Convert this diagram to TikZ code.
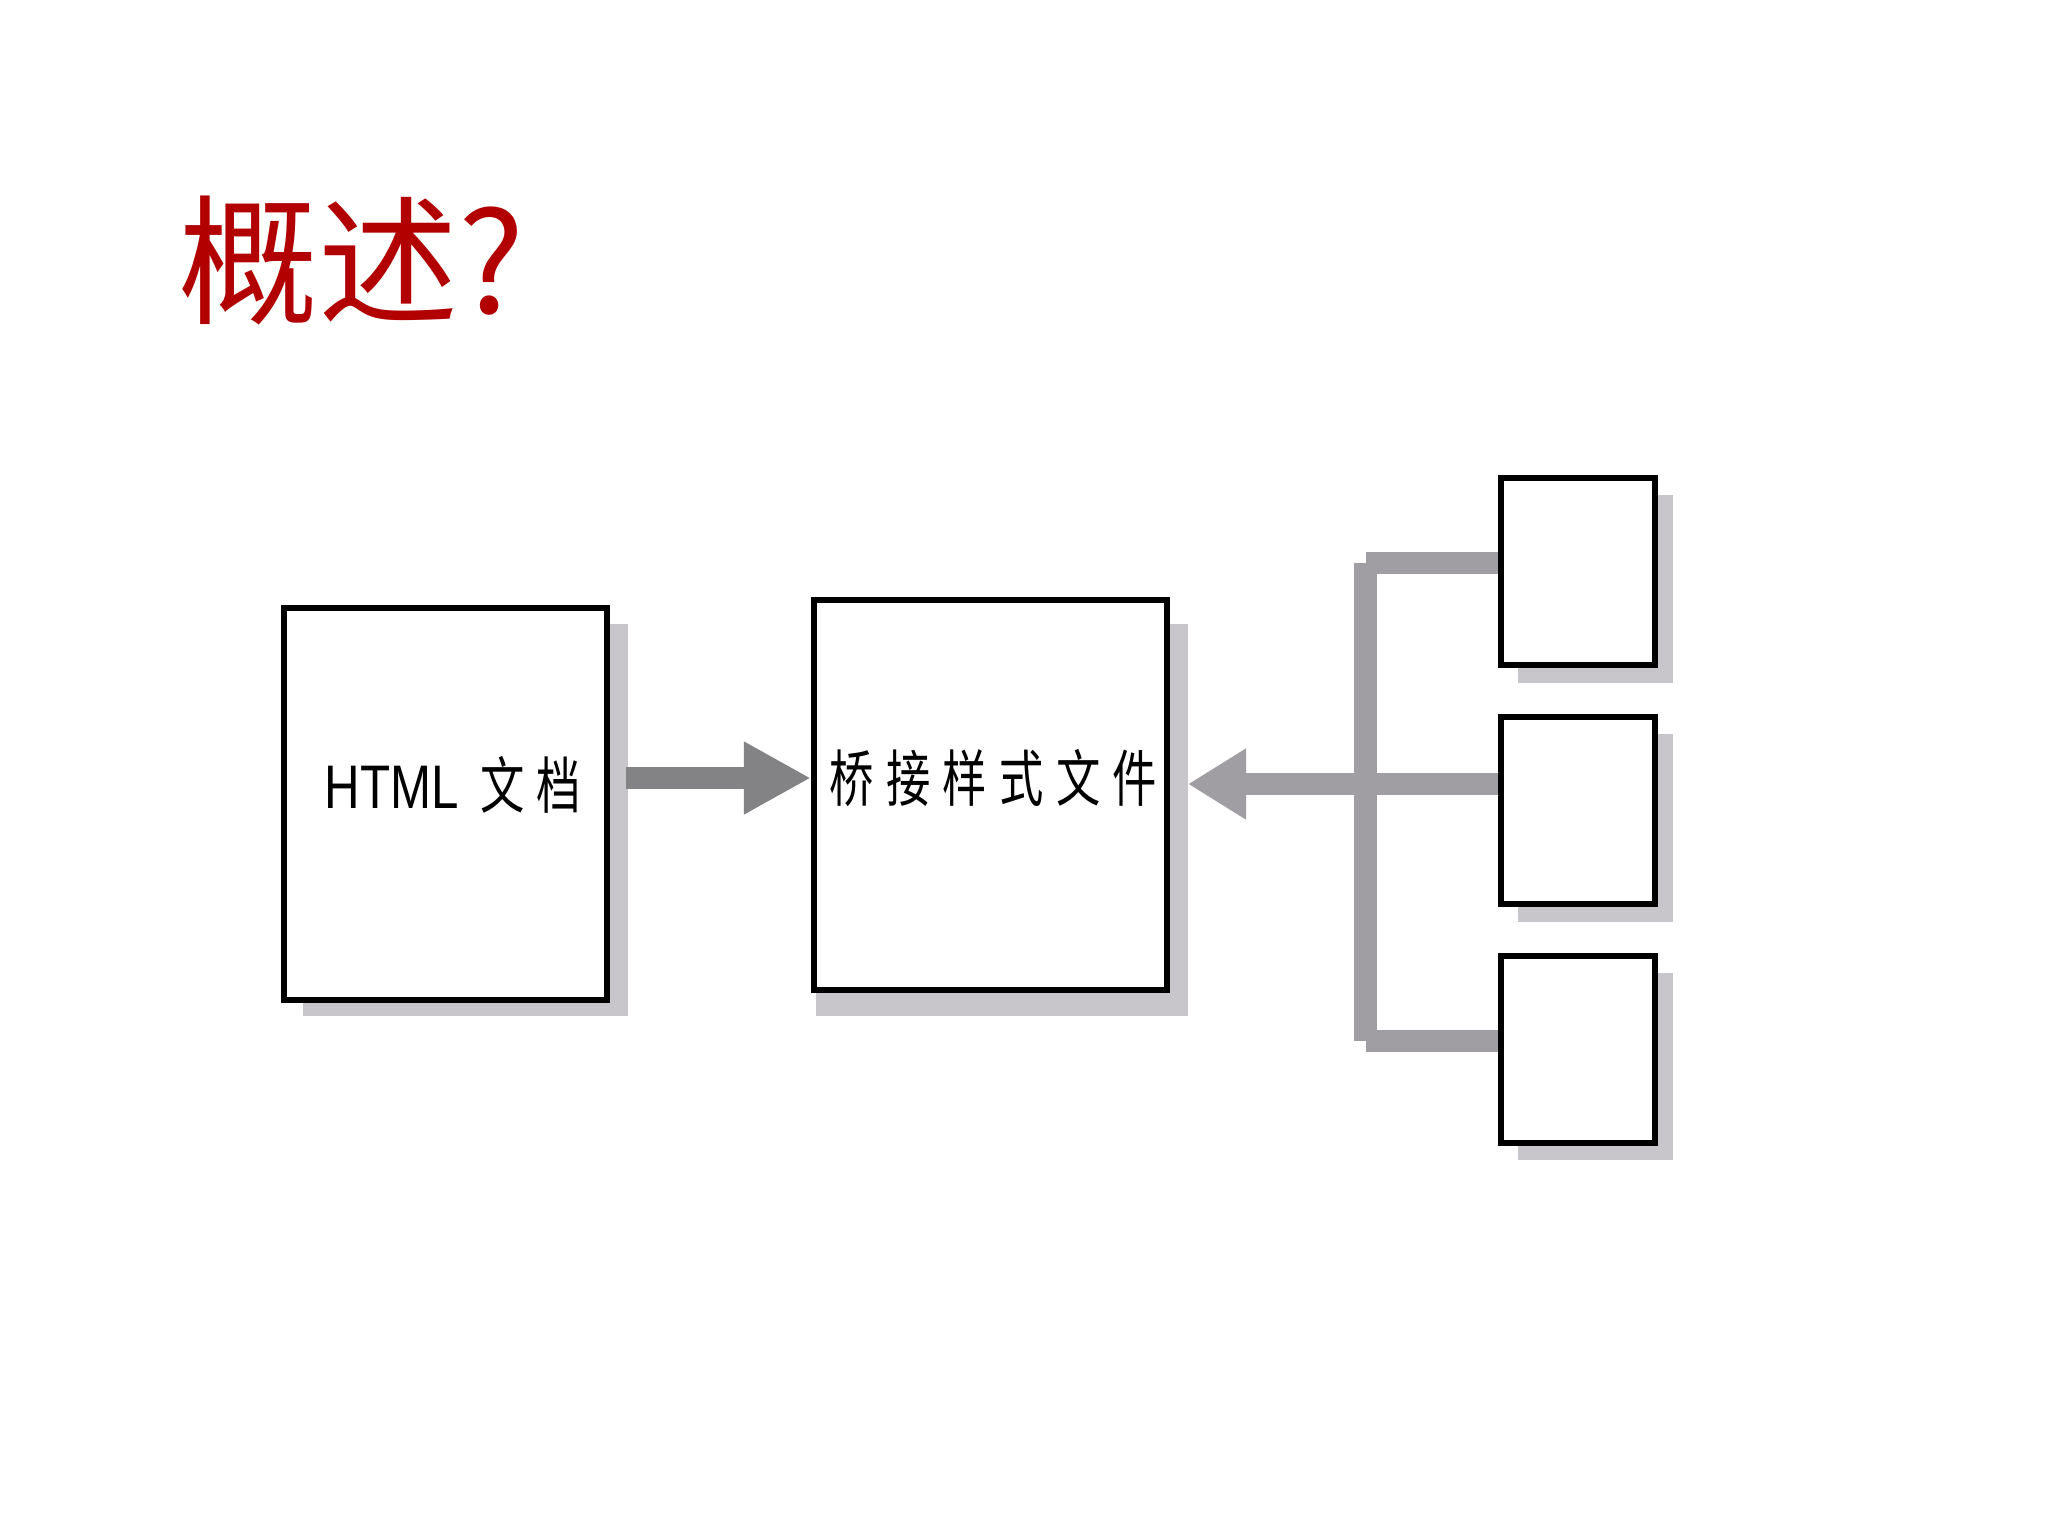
\documentclass[tikz,border=0pt]{standalone}
\usepackage{fontspec}
\usetikzlibrary{arrows.meta}
\newfontfamily\cjktitle{Noto Sans CJK SC}
\newfontfamily\cjknarrow[FakeStretch=0.72,LetterSpace=20]{Noto Sans CJK SC}
\newfontfamily\latnarrow[FakeStretch=0.8]{Liberation Sans}
\definecolor{titlered}{RGB}{178,0,0}
\definecolor{shadowgray}{RGB}{200,198,202}
\definecolor{bargray}{RGB}{160,158,162}
\definecolor{arrowgray}{RGB}{131,130,132}
\tikzset{
  boxnode/.style={draw=black, line width=0.06cm, fill=white, inner sep=0pt},
  smallbox/.style={boxnode, minimum width=1.54cm, minimum height=1.87cm},
  shadowfill/.style={fill=shadowgray},
  bar/.style={draw=bargray, line width=0.225cm},
  bigarrow/.style={draw=arrowgray, line width=0.22cm, -{Triangle[length=0.67cm,width=0.68cm]}},
  backarrow/.style={bar, -{Triangle[length=0.58cm,width=0.67cm]}},
  lab/.style={anchor=base west, inner sep=0pt, font=\fontsize{17.5pt}{21pt}\selectfont}
}
\begin{document}
\begin{tikzpicture}[x=0.01cm,y=-0.01cm]
\useasboundingbox (0,0) rectangle (2048,1536);
\fill[white] (0,0) rectangle (2048,1536);
% title
\node[anchor=base west, inner sep=0pt, text=titlered, font={\cjktitle\fontsize{39.8pt}{48pt}\selectfont}] (title) at (178,313) {概述?};
% shadows
\fill[shadowfill] (303,624) rectangle (628,1016);
\fill[shadowfill] (816,624) rectangle (1188,1016);
\fill[shadowfill] (1518,495) rectangle (1673,683);
\fill[shadowfill] (1518,734) rectangle (1673,922);
\fill[shadowfill] (1518,973) rectangle (1673,1160);
% connector points
\coordinate (jt) at (1365.5,563);
\coordinate (jb) at (1365.5,1041);
\coordinate (t2) at (1188,784);
\coordinate (s1) at (626,778);
% boxes
\node[boxnode, minimum width=3.23cm, minimum height=3.92cm] (b1) at (445.5,804) {};
\node[boxnode, minimum width=3.53cm, minimum height=3.90cm] (b2) at (990.5,795) {};
\node[smallbox] (sb1) at (1578,571.5) {};
\node[smallbox] (sb2) at (1578,810.5) {};
\node[smallbox] (sb3) at (1578,1049.5) {};
% bars
\draw[bar] (jt) -- (jb);
\draw[bar] (jt) -- (jt -| sb1.west);
\draw[bar] (jb) -- (jb -| sb3.west);
\draw[backarrow] (t2 -| sb2.west) -- (t2);
\draw[bigarrow] (s1) -- (s1 -| b2.west);
% labels
\node[lab] (l1) at (324,808) {\latnarrow HTML \hspace{0.08cm}\cjknarrow 文档};
\node[lab] (l2) at (829,801) {\cjknarrow 桥接样式文件};
\end{tikzpicture}
\end{document}
